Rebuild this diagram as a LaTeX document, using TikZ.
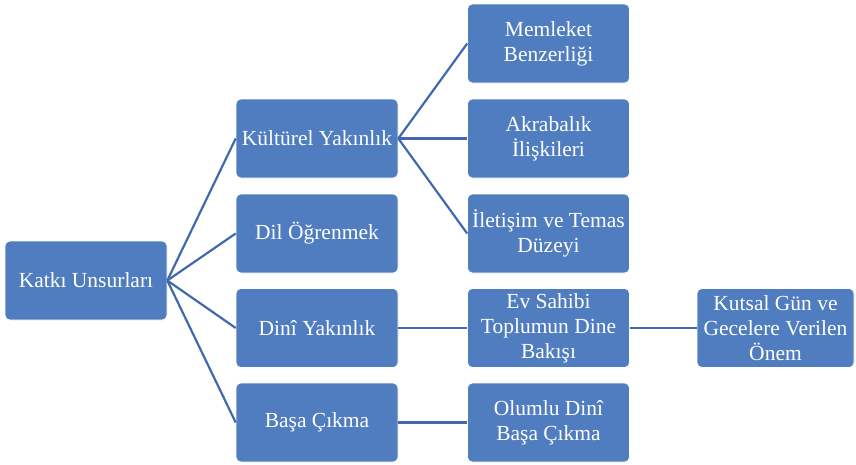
\documentclass[tikz,border=0pt]{standalone}
\usepackage{fontspec}
\setmainfont{Liberation Serif}
\definecolor{boxblue}{HTML}{4F7DBF}
\definecolor{linkblue}{HTML}{4169AE}
\begin{document}
\begin{tikzpicture}[x=1pt,y=-1pt,
  item/.style={draw=white, line width=0.6pt, fill=boxblue, rounded corners=5pt,
    minimum width=162pt, minimum height=79pt, inner sep=1pt,
    text=white, align=center, font=\fontsize{21.5}{25}\selectfont},
  link/.style={draw=linkblue, line width=2.2pt}]
\useasboundingbox (0,0) rectangle (856,464);
% root
\node[item] (root) at (86,280.5) {Katkı Unsurları};
% first level
\node[item] (kultur) at (317,138.5) {Kültürel Yakınlık};
\node[item] (dil) at (317,233.5) {Dil Öğrenmek};
\node[item] (dini) at (317,328) {Dinî Yakınlık};
\node[item] (basa) at (317,422.5) {Başa Çıkma};
% second level
\node[item] (memleket) at (548.5,43.5) {Memleket\\Benzerliği};
\node[item] (akraba) at (548.5,138.5) {Akrabalık\\İlişkileri};
\node[item] (iletisim) at (548.5,233.5) {İletişim ve Temas\\Düzeyi};
\node[item] (evsahibi) at (548.5,328) {Ev Sahibi\\Toplumun Dine\\Bakışı};
\node[item] (olumlu) at (548.5,422.5) {Olumlu Dinî\\Başa Çıkma};
% third level
\node[item, minimum width=157pt] (kutsal) at (775.5,328) {Kutsal Gün ve\\Gecelere Verilen\\Önem};
% connectors
\foreach \c in {kultur,dil,dini,basa}
  \draw[link] (root.east) -- (\c.west);
\foreach \c in {memleket,akraba,iletisim}
  \draw[link] (kultur.east) -- (\c.west);
\draw[link] (dini.east) -- (evsahibi.west);
\draw[link] (basa.east) -- (olumlu.west);
\draw[link] (evsahibi.east) -- (kutsal.west);
\end{tikzpicture}
\end{document}
